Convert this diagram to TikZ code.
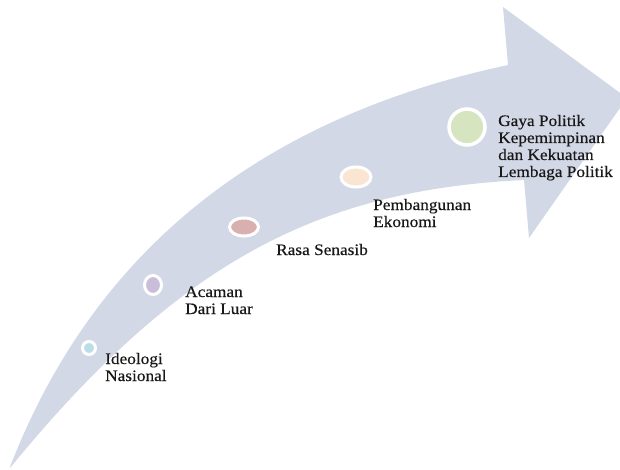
\documentclass[tikz,border=0pt]{standalone}
\usepackage{fontspec}
\setmainfont{Liberation Serif}[FakeStretch=1.08,FakeBold=0.4]
\usetikzlibrary{shapes.geometric}
\definecolor{arrowfill}{RGB}{211,216,230}
\definecolor{txt}{RGB}{25,25,25}
\definecolor{cA}{RGB}{186,222,230}
\definecolor{cB}{RGB}{201,190,218}
\definecolor{cC}{RGB}{216,176,176}
\definecolor{cD}{RGB}{250,228,210}
\definecolor{cE}{RGB}{214,228,192}
\tikzset{
  dot/.style={ellipse, draw=white, line width=3pt, inner sep=0pt},
  lbl/.style={anchor=base west, align=left, inner sep=0pt, text=txt,
    font=\fontsize{16}{17}\selectfont}
}
\begin{document}
\begin{tikzpicture}[x=1pt,y=-1pt]
\useasboundingbox (0,0) rectangle (620,470);
\clip (0,0) rectangle (620,470);
\fill[arrowfill] (10,467) .. controls (90,260) and (250,120) .. (508,65)
  -- (503,7) -- (627,98) -- (529,238) -- (524,180)
  .. controls (320,190) and (180,260) .. (10,468) -- cycle;
\node[dot, fill=cA, minimum width=13, minimum height=13] (c1) at (89,348) {};
\node[dot, fill=cB, minimum width=17, minimum height=19] (c2) at (153,285) {};
\node[dot, fill=cC, minimum width=29, minimum height=18] (c3) at (244,227) {};
\node[dot, fill=cD, minimum width=30, minimum height=20] (c4) at (356,177) {};
\node[dot, fill=cE, minimum width=36, minimum height=36, line width=3.5pt] (c5) at (467,127) {};
\node[lbl] (t1) at (105,381) {Ideologi\\Nasional};
\node[lbl] (t2) at (185,314) {Acaman\\Dari Luar};
\node[lbl] (t3) at (276,255) {Rasa Senasib};
\node[lbl] (t4) at (373,227) {Pembangunan\\Ekonomi};
\node[lbl] (t5) at (498,177) {Gaya Politik\\Kepemimpinan\\dan Kekuatan\\Lembaga Politik};
\end{tikzpicture}
\end{document}
